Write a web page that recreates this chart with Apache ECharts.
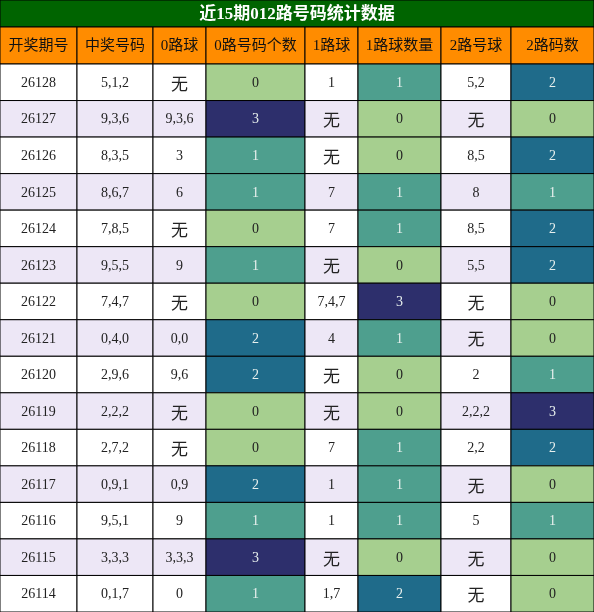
<!DOCTYPE html>
<html><head><meta charset="utf-8">
<script src="https://cdn.jsdelivr.net/npm/echarts@6/dist/echarts.min.js"></script>
<style>html,body{margin:0;padding:0;background:#fff}#c{width:594px;height:612px}</style>
</head><body><div id="c"></div>
<script>
const title = '近15期012路号码统计数据';
const headers = ['开奖期号','中奖号码','0路球','0路号码个数','1路球','1路球数量','2路号球','2路码数'];
const periods = ['26128','26127','26126','26125','26124','26123','26122','26121','26120','26119','26118','26117','26116','26115','26114'];
const numbers = ['5,1,2','9,3,6','8,3,5','8,6,7','7,8,5','9,5,5','7,4,7','0,4,0','2,9,6','2,2,2','2,7,2','0,9,1','9,5,1','3,3,3','0,1,7'];
const ball0 = ['无','9,3,6','3','6','无','9','无','0,0','9,6','无','无','0,9','9','3,3,3','0'];
const cnt0 = [0,3,1,1,0,1,0,2,2,0,0,2,1,3,1];
const ball1 = ['1','无','无','7','7','无','7,4,7','4','无','无','7','1','1','无','1,7'];
const cnt1 = [1,0,0,1,1,0,3,1,0,0,1,1,1,0,2];
const ball2 = ['5,2','无','8,5','8','8,5','5,5','无','无','2','2,2,2','2,2','无','5','无','无'];
const cnt2 = [2,0,2,1,2,2,0,0,1,3,2,0,1,0,0];

const colEdges = [0,77,153,206,305,358,441,511,594];
const titleH = 27, headH = 37, W = 594, H = 612;
const rowH = (H - titleH - headH) / periods.length;
const cntColors = ['#a6cf8f','#4e9f8e','#1f6b8a','#2d2f6c'];
const cntText = ['#222','#e8f0ee','#e8f0ee','#e8f0ee'];

const cells = [];
cells.push({value:[0,0], kind:'title', text:title});
headers.forEach((h,i)=>cells.push({value:[i,0], kind:'head', text:h}));
periods.forEach((p,r)=>{
  const cols=[p,numbers[r],ball0[r],cnt0[r],ball1[r],cnt1[r],ball2[r],cnt2[r]];
  cols.forEach((v,c)=>cells.push({value:[c,r], kind:(c===3||c===5||c===7)?'cnt':'plain', text:String(v), n:v}));
});

function renderItem(params, api){
  const d = cells[params.dataIndex];
  const c = d.value[0], r = d.value[1];
  let x0,x1,y0,y1,fill,tc,fs=14,fw='normal',ff='"Liberation Serif","Noto Sans CJK SC",serif';
  if(d.kind==='title'){x0=0;x1=W;y0=0;y1=titleH;fill='#006400';tc='#fff';fs=17;fw='bold';}
  else if(d.kind==='head'){x0=colEdges[c];x1=colEdges[c+1];y0=titleH;y1=titleH+headH;fill='#ff8c00';tc='#111';fs=15;}
  else {
    x0=colEdges[c];x1=colEdges[c+1];y0=titleH+headH+r*rowH;y1=y0+rowH;
    fill = r%2===0 ? '#ffffff' : '#ede7f6'; tc='#222';
    if(d.kind==='cnt'){fill=cntColors[d.n];tc=cntText[d.n];}
    if(d.text==='无'){fs=17;ff='"Noto Sans CJK SC",sans-serif';}
  }
  const p0 = api.coord([x0,y0]), p1 = api.coord([x1,y1]);
  return {type:'group',children:[
    {type:'rect',shape:{x:p0[0],y:p0[1],width:p1[0]-p0[0],height:p1[1]-p0[1]},style:{fill:fill,stroke:'#000',lineWidth:1}},
    {type:'text',style:{x:(p0[0]+p1[0])/2,y:(p0[1]+p1[1])/2+1,text:d.text,fill:tc,font:fw+' '+fs+'px '+ff,align:'center',verticalAlign:'middle'}}
  ]};
}

const chart = echarts.init(document.getElementById('c'));
chart.setOption({
  animation:false,
  grid:{left:0,right:0,top:0,bottom:0},
  xAxis:{type:'value',min:0,max:W,show:false},
  yAxis:{type:'value',min:0,max:H,inverse:true,show:false},
  series:[{type:'custom',renderItem:renderItem,data:cells,clip:false}]
});
</script></body></html>
